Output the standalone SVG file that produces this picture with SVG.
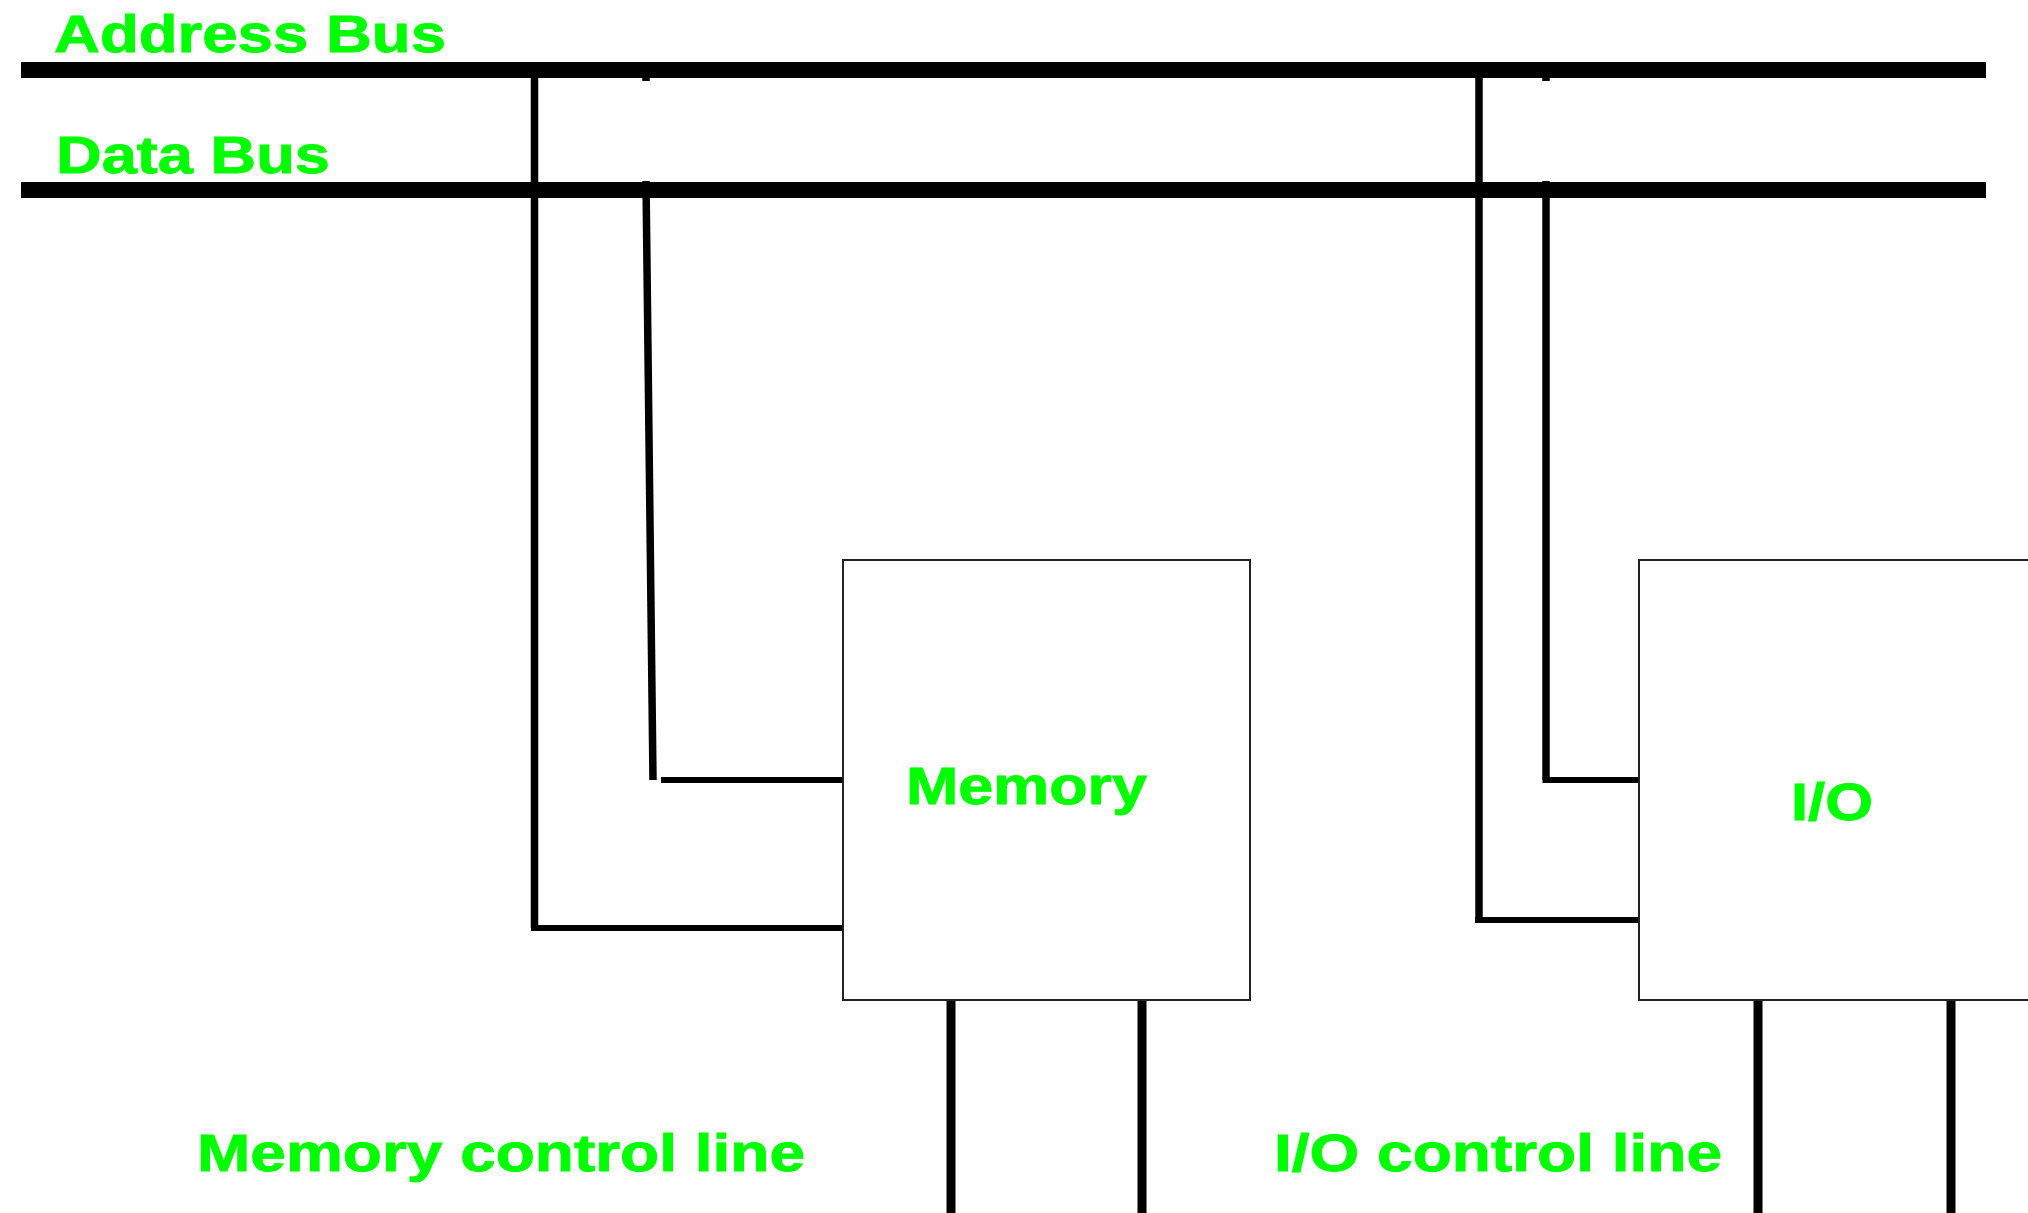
<svg xmlns="http://www.w3.org/2000/svg" width="2028" height="1213" viewBox="0 0 2028 1213">
<style>
.lbl{font-family:"Liberation Sans",Arial,sans-serif;font-weight:bold;font-size:51px;fill:#00ff00;stroke:#00ff00;stroke-width:0.8}
.bus{stroke:#000;stroke-width:16;fill:none}
.wire{stroke:#000;stroke-width:7.5;fill:none;stroke-linejoin:miter}
.hw{stroke:#000;stroke-width:6;fill:none}
.ctl{stroke:#000;stroke-width:9;fill:none}
.box{fill:#fff;stroke:#222;stroke-width:2}
</style>
<rect width="2028" height="1213" fill="#fff"/>
<g id="address-bus">
<line class="bus" x1="21" y1="70" x2="1986" y2="70"/>
<text class="lbl" x="54" y="52" textLength="392" lengthAdjust="spacingAndGlyphs">Address Bus</text>
</g>
<g id="data-bus">
<line class="bus" x1="21" y1="190" x2="1986" y2="190"/>
<text class="lbl" x="56" y="173" textLength="274" lengthAdjust="spacingAndGlyphs">Data Bus</text>
</g>
<g id="connectors">
<line class="wire" x1="646" y1="62" x2="646" y2="81"/>
<line class="wire" x1="1546" y1="62" x2="1546" y2="81"/>
<path class="wire" d="M534.5 78 V928"/>
<path class="hw" d="M531 928 H848"/>
<path class="wire" d="M646 181 L653 780"/>
<path class="hw" d="M661 780 H843"/>
<path class="wire" d="M1479 78 V920"/>
<path class="hw" d="M1475 920 H1645"/>
<path class="wire" d="M1546 181 V780"/>
<path class="hw" d="M1542.5 780 H1639"/>
<line class="ctl" x1="951" y1="1001" x2="951" y2="1213"/>
<line class="ctl" x1="1142" y1="1001" x2="1142" y2="1213"/>
<line class="ctl" x1="1758" y1="1001" x2="1758" y2="1213"/>
<line class="ctl" x1="1951" y1="1001" x2="1951" y2="1213"/>
</g>
<g id="memory">
<rect class="box" x="843" y="560" width="407" height="440"/>
<text class="lbl" x="906" y="804" textLength="241" lengthAdjust="spacingAndGlyphs">Memory</text>
</g>
<g id="io">
<rect class="box" x="1639" y="560" width="420" height="440"/>
<text class="lbl" x="1791" y="820" textLength="82" lengthAdjust="spacingAndGlyphs">I/O</text>
</g>
<g id="memory-control-label">
<text class="lbl" x="197" y="1171" textLength="608" lengthAdjust="spacingAndGlyphs">Memory control line</text>
</g>
<g id="io-control-label">
<text class="lbl" x="1274" y="1171" textLength="448" lengthAdjust="spacingAndGlyphs">I/O control line</text>
</g>
</svg>
